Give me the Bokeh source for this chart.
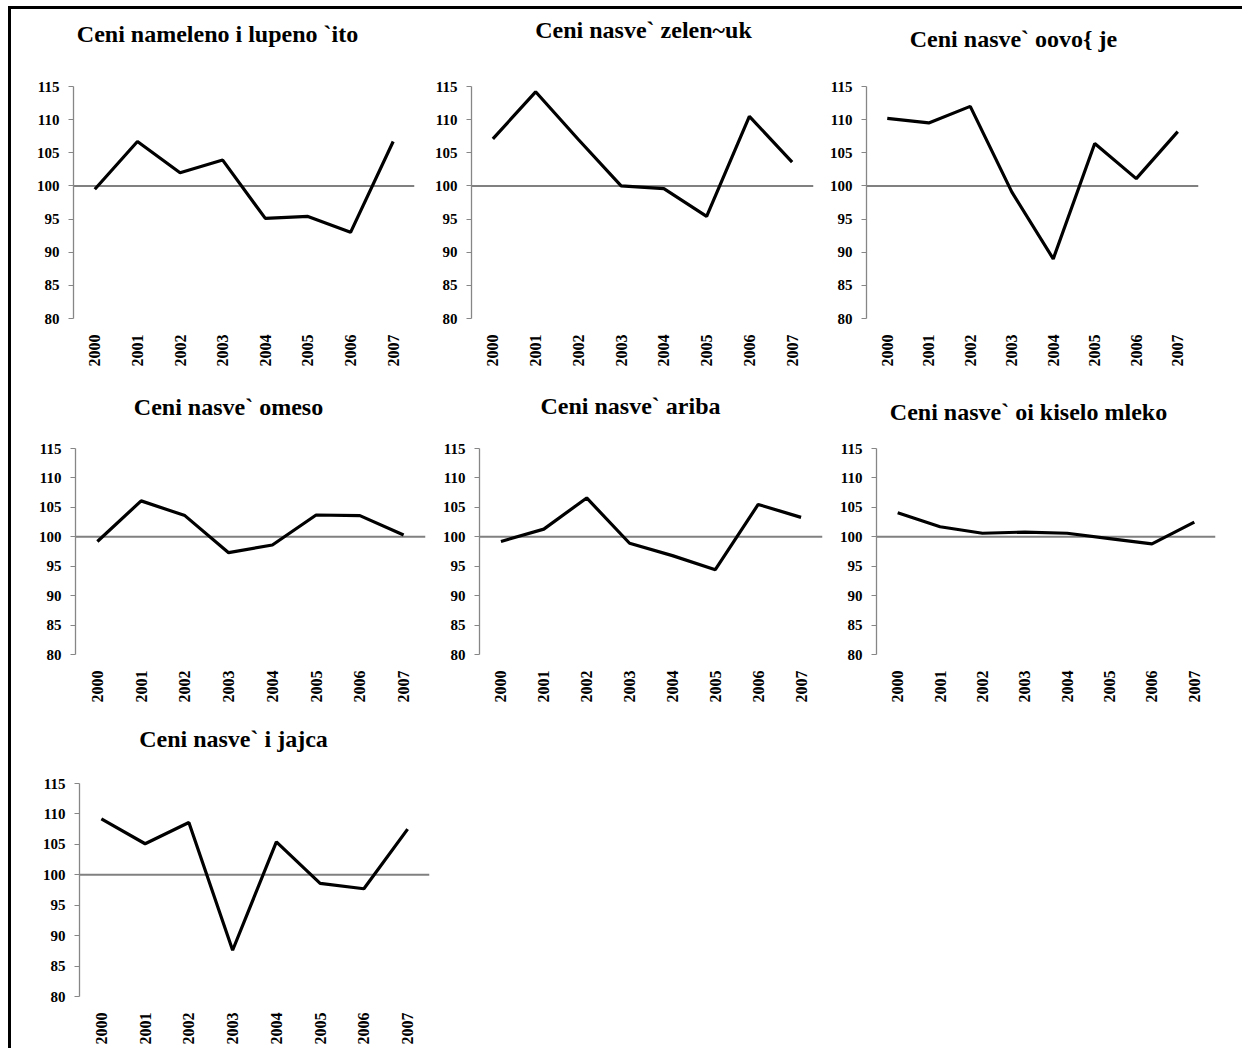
import math
from bokeh.plotting import figure
from bokeh.layouts import row, column
from bokeh.models import Div, Span, Title, FixedTicker, Range1d, FactorRange
from bokeh.embed import file_html
from bokeh.resources import INLINE

# ---------------- data ----------------
years = ["2000", "2001", "2002", "2003", "2004", "2005", "2006", "2007"]
y_ticks = [80, 85, 90, 95, 100, 105, 110, 115]
base_level = 100

zito = [99.5, 106.7, 102.0, 103.9, 95.1, 95.4, 93.0, 106.7]
zelencuk = [107.1, 114.2, 107.0, 100.0, 99.6, 95.4, 110.5, 103.6]
ovosje = [110.2, 109.5, 112.0, 99.1, 89.0, 106.4, 101.1, 108.2]
meso = [99.2, 106.1, 103.6, 97.3, 98.6, 103.7, 103.6, 100.3]
riba = [99.2, 101.3, 106.6, 98.9, 96.8, 94.4, 105.5, 103.3]
mleko = [104.1, 101.7, 100.6, 100.8, 100.6, 99.7, 98.8, 102.5]
jajca = [109.2, 105.1, 108.6, 87.6, 105.4, 98.6, 97.7, 107.5]

titles = [
    "Ceni nameleno i lupeno `ito",
    "Ceni nasve` zelen~uk",
    "Ceni nasve` oovo{ je",
    "Ceni nasve` omeso",
    "Ceni nasve` ariba",
    "Ceni nasve` oi kiselo mleko",
    "Ceni nasve` i jajca",
]

FONT = "Liberation Serif"
AXIS_GRAY = "#868686"
TITLE_PX = 24

# approximate Times-Bold advance widths (per 1000 em) to centre titles
_W = {" ": 250, "C": 722, "e": 444, "n": 556, "i": 278, "a": 500, "m": 833,
      "l": 278, "o": 500, "u": 556, "p": 556, "`": 333, "t": 333, "s": 389,
      "v": 500, "z": 444, "~": 520, "k": 556, "{": 394, "j": 333, "c": 444,
      "r": 444, "b": 556}


def text_width(s, px):
    return sum(_W.get(ch, 500) for ch in s) * px / 1000.0


def panel(title, vals, width, height, left, right, top, bottom, tcx, tgap):
    p = figure(
        x_range=FactorRange(*years),
        y_range=Range1d(y_ticks[0], y_ticks[-1]),
        width=width, height=height,
        min_border_left=left, min_border_right=right,
        min_border_top=top, min_border_bottom=bottom,
        title=None, toolbar_location=None, output_backend="svg",
    )
    p.outline_line_color = None
    p.xgrid.visible = False
    p.ygrid.visible = False
    p.background_fill_color = "white"
    p.border_fill_color = "white"

    ya = p.yaxis[0]
    ya.ticker = FixedTicker(ticks=y_ticks)
    ya.axis_line_color = AXIS_GRAY
    ya.axis_line_width = 1.3
    ya.major_tick_line_color = AXIS_GRAY
    ya.major_tick_out = 5
    ya.major_tick_in = 0
    ya.minor_tick_line_color = None
    ya.major_label_standoff = 9
    ya.major_label_text_font = FONT
    ya.major_label_text_font_style = "bold"
    ya.major_label_text_font_size = "15px"
    ya.major_label_text_color = "black"

    xa = p.xaxis[0]
    xa.axis_line_color = None
    xa.major_tick_line_color = None
    xa.minor_tick_line_color = None
    xa.major_label_orientation = math.pi / 2
    xa.major_label_standoff = 10
    xa.major_label_text_font = FONT
    xa.major_label_text_font_style = "bold"
    xa.major_label_text_font_size = "16px"
    xa.major_label_text_color = "black"

    p.add_layout(Span(location=base_level, dimension="width",
                      line_color="#808080", line_width=2, level="underlay"))
    p.line(x=years, y=vals, line_color="black", line_width=3.2)

    # white 1px spacer next to the frame, then the title above it
    p.add_layout(Title(text=".", text_font_size="1px", standoff=tgap,
                       text_color="white"), "above")
    p.add_layout(Title(text=title, align="left",
                       offset=tcx - text_width(title, TITLE_PX) / 2,
                       standoff=0, vertical_align="bottom",
                       text_font=FONT, text_font_style="bold",
                       text_font_size=f"{TITLE_PX}px", text_color="black"),
                 "above")
    return p


p1 = panel(titles[0], zito, 414, 371, 62, 11, 77, 62, 144, 37)
p2 = panel(titles[1], zelencuk, 397, 371, 46, 9, 77, 62, 172, 41)
p3 = panel(titles[2], ovosje, 412, 371, 44, 36, 77, 62, 147, 32)

p4 = panel(titles[3], meso, 422, 332, 64, 8, 68, 58, 153, 26)
p5 = panel(titles[4], riba, 397, 332, 46, 8, 68, 58, 151, 27)
p6 = panel(titles[5], mleko, 404, 332, 46, 19, 68, 58, 152, 21)

p7 = panel(titles[6], jajca, 438, 336, 68, 20, 71, 52, 154, 29)

top_bar = Div(text="", width=1231, height=3, margin=0,
              styles={"background-color": "black"})
left_bar = Div(text="", width=3, height=1042, margin=0,
               styles={"background-color": "black"})

layout = row(
    left_bar,
    column(top_bar, row(p1, p2, p3), row(p4, p5, p6), row(p7)),
    margin=(6, 0, 0, 8),
)

open("out.html", "w").write(file_html(layout, INLINE))
